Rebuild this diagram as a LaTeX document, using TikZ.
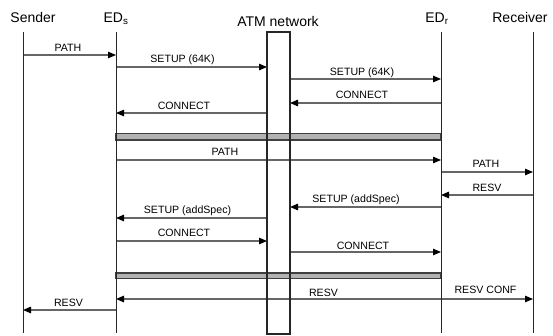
\documentclass[tikz,border=0pt]{standalone}
\usepackage{fontspec}
\setmainfont{Liberation Sans}
\usetikzlibrary{arrows.meta}
\begin{document}
\begin{tikzpicture}[x=1pt,y=-1pt,
  head/.style={font=\fontsize{14}{16}\selectfont, inner sep=0pt},
  lbl/.style={font=\fontsize{10.6}{12}\selectfont, inner sep=0pt},
  life/.style={draw=black!85, line width=0.9pt},
  msg/.style={draw=black!60, line width=1.1pt, -{Triangle[length=8pt,width=6.5pt,color=black]}},
  bar/.style={draw=black!75, line width=1.2pt, fill=black!30},
  atm/.style={draw=black!85, line width=1.6pt}]
\useasboundingbox (0,0) rectangle (553,335);
\fill[white] (0,0) rectangle (553,335);
% headers
\node[head] (hs) at (33,17) {Sender};
\node[head] (hes) at (116,18.5) {ED\textsubscript{s}};
\node[head] (ha) at (278,21) {ATM network};
\node[head] (her) at (437,18.5) {ED\textsubscript{r}};
\node[head] (hr) at (520,17) {Receiver};
% lifeline coordinates
\coordinate (sT) at (23,32);   \coordinate (sB) at (23,333);
\coordinate (esT) at (116,32); \coordinate (esB) at (116,333);
\coordinate (aL) at (267,32);  \coordinate (aR) at (290,334);
\coordinate (erT) at (441,32); \coordinate (erB) at (441,333);
\coordinate (rT) at (533,32);  \coordinate (rB) at (533,333);
% messages
\draw[msg] (sT |- 0,55) -- (esT |- 0,55);
\node[lbl] (l1) at (68,48) {PATH};
\draw[msg] (esT |- 0,67) -- (aL |- 0,67);
\node[lbl] (l2) at (182.5,59.5) {SETUP (64K)};
\draw[msg] (aR |- 0,79) -- (erT |- 0,79);
\node[lbl] (l3) at (362,72.5) {SETUP (64K)};
\draw[msg] (erT |- 0,103) -- (aR |- 0,103);
\node[lbl] (l4) at (362,95) {CONNECT};
\draw[msg] (aL |- 0,113) -- (esT |- 0,113);
\node[lbl] (l5) at (184,106) {CONNECT};
\draw[bar] (esT |- 0,133.5) rectangle (erT |- 0,140);
\draw[msg] (esT |- 0,160) -- (erT |- 0,160);
\node[lbl] (l7) at (225,151.5) {PATH};
\draw[msg] (erT |- 0,172) -- (rT |- 0,172);
\node[lbl] (l8) at (486,163.5) {PATH};
\draw[msg] (rT |- 0,195) -- (erT |- 0,195);
\node[lbl] (l9) at (487,187.5) {RESV};
\draw[msg] (erT |- 0,207) -- (aR |- 0,207);
\node[lbl] (l10) at (356,199.5) {SETUP (addSpec)};
\draw[msg] (aL |- 0,218) -- (esT |- 0,218);
\node[lbl] (l11) at (187.5,211) {SETUP (addSpec)};
\draw[msg] (esT |- 0,241) -- (aL |- 0,241);
\node[lbl] (l12) at (184,232.5) {CONNECT};
\draw[msg] (aR |- 0,252) -- (erT |- 0,252);
\node[lbl] (l13) at (363,245.5) {CONNECT};
\draw[bar] (esT |- 0,273) rectangle (erT |- 0,278.5);
\draw[msg] (erT |- 0,299) -- (esT |- 0,299);
\node[lbl] (l15) at (323.5,293) {RESV};
\draw[msg] (erT |- 0,299) -- (rT |- 0,299);
\node[lbl] (l15b) at (485.5,289.5) {RESV CONF};
\draw[msg] (esT |- 0,310) -- (sT |- 0,310);
\node[lbl] (l16) at (68.5,302.5) {RESV};
% lifelines
\draw[life] (sT) -- (sB);
\draw[life] (esT) -- (esB);
\draw[life] (erT) -- (erB);
\draw[life] (rT) -- (rB);
\draw[atm] (aL) rectangle (aR);
\end{tikzpicture}
\end{document}
